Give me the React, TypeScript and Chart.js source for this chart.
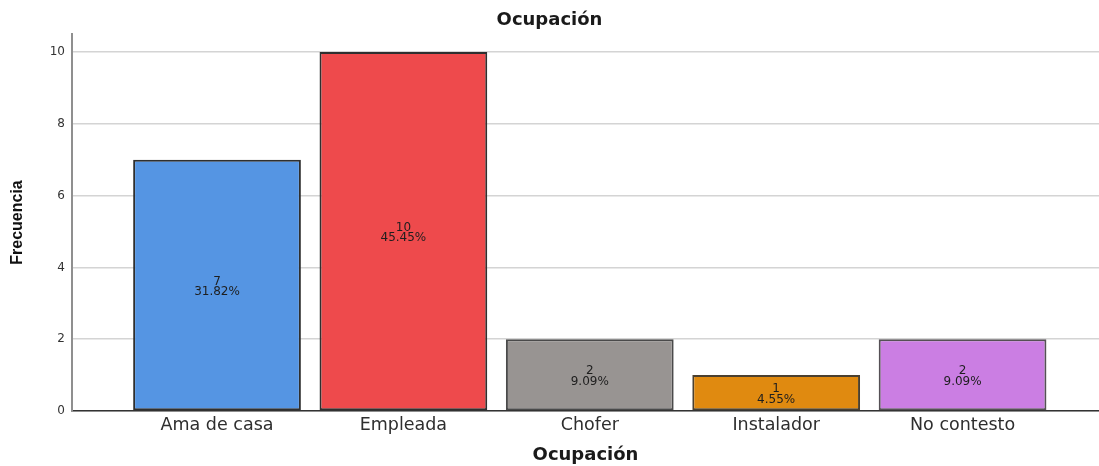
import React, { useEffect, useRef } from "react";
import { Chart, registerables } from "chart.js";

Chart.register(...registerables);

const categories = ["Ama de casa", "Empleada", "Chofer", "Instalador", "No contesto"];
const frequencies = [7, 10, 2, 1, 2];
const barColors = ["#5595E3", "#EE4A4C", "#989492", "#E08A10", "#CB7EE3"];
const barBorders = ["#2f2f2f", "#2f2f2f", "#4a4a4a", "#4a4030", "#555055"];
const yTicks = [0, 2, 4, 6, 8, 10];

const total = frequencies.reduce((a, b) => a + b, 0);

const labelPlugin = {
  id: "barLabels",
  afterDatasetsDraw(chart: any) {
    const ctx = chart.ctx;
    const meta = chart.getDatasetMeta(0);
    ctx.save();
    ctx.font = '12px "DejaVu Sans", sans-serif';
    ctx.fillStyle = "#1e1e1e";
    ctx.textAlign = "center";
    ctx.textBaseline = "middle";
    meta.data.forEach((el: any, i: number) => {
      const { x, y, base } = el.getProps(["x", "y", "base"], true);
      const mid = (y + base) / 2;
      const v = frequencies[i];
      const pct = ((v / total) * 100).toFixed(2) + "%";
      ctx.fillText(String(v), x, mid - 3.5);
      ctx.fillText(pct, x, mid + 7);
    });
    ctx.restore();
  },
};

export default function App() {
  const ref = useRef<HTMLCanvasElement>(null);
  useEffect(() => {
    if (!ref.current) return;
    const chart = new Chart(ref.current, {
      type: "bar",
      data: {
        datasets: [
          {
            data: frequencies.map((v, i) => ({ x: i, y: v })),
            backgroundColor: barColors,
            borderColor: barBorders,
            borderWidth: 2,
            borderSkipped: false,
            barPercentage: 0.9,
            categoryPercentage: 1,
          },
        ],
      },
      options: {
        animation: false,
        responsive: false,
        devicePixelRatio: 1,
        layout: { padding: 0 },
        plugins: {
          legend: { display: false },
          tooltip: { enabled: false },
          title: {
            display: true,
            text: "Ocupación",
            color: "#1a1a1a",
            font: { family: '"DejaVu Sans", sans-serif', size: 18, weight: "bold" },
            padding: { top: 10, bottom: 2.4 },
          },
        },
        scales: {
          x: {
            type: "linear",
            min: -0.778,
            max: 4.732,
            offset: false,
            grid: { display: false, drawTicks: false, offset: false },
            border: { display: true, color: "#333333", width: 1.5 },
            ticks: {
              stepSize: 1,
              includeBounds: false,
              autoSkip: false,
              maxRotation: 0,
              padding: 4,
              color: "#2e2e2e",
              font: { family: '"DejaVu Sans", sans-serif', size: 17.5 },
              callback: (value: any) => {
                const n = Number(value);
                return Number.isInteger(n) && categories[n] !== undefined ? categories[n] : "";
              },
            },
            title: {
              display: true,
              text: "Ocupación",
              color: "#1a1a1a",
              font: { family: '"DejaVu Sans", sans-serif', size: 18, weight: "bold" },
              padding: { top: 0, bottom: 0 },
            },
            afterFit: (s: any) => {
              s.height = 55;
            },
          },
          y: {
            min: 0,
            max: 10.5,
            grid: { color: "#d4d4d4", lineWidth: 1.5, drawTicks: false },
            border: { display: true, color: "#8f8f8f", width: 2 },
            afterBuildTicks: (s: any) => {
              s.ticks = yTicks.map((v) => ({ value: v }));
            },
            ticks: {
              stepSize: 2,
              includeBounds: false,
              padding: 7,
              color: "#333333",
              font: { family: '"DejaVu Sans", sans-serif', size: 12 },
            },
            title: {
              display: true,
              text: "Frecuencia",
              color: "#111111",
              font: {
                family: '"Liberation Sans", Arial, sans-serif',
                size: 16,
                weight: "bold",
              },
              padding: { top: 8, bottom: 0 },
            },
            afterFit: (s: any) => {
              s.width = 72;
            },
          },
        },
      } as any,
      plugins: [labelPlugin],
    });
    return () => chart.destroy();
  }, []);
  return (
    <div style={{ position: "fixed", left: 0, top: 0, width: 1099, height: 466, background: "#ffffff" }}>
      <canvas ref={ref} width={1099} height={466} style={{ display: "block" }} />
    </div>
  );
}
